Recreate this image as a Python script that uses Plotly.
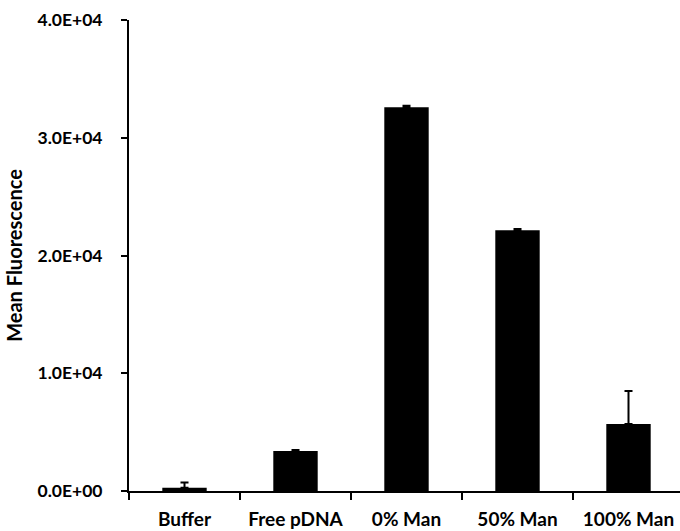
import plotly.graph_objects as go

categories = ["Buffer", "Free pDNA", "0% Man", "50% Man", "100% Man"]
mean_fluorescence = [280, 3400, 32600, 22150, 5700]
error_plus = [450, 80, 120, 110, 2800]
error_minus = [0, 0, 0, 0, 0]
y_tick_values = [0, 10000, 20000, 30000, 40000]
y_tick_labels = ["0.0E+00", "1.0E+04", "2.0E+04", "3.0E+04", "4.0E+04"]

fig = go.Figure()
fig.add_trace(go.Bar(
    x=categories,
    y=mean_fluorescence,
    width=0.4,
    marker=dict(color="black", line=dict(width=0)),
    error_y=dict(type="data", symmetric=False, array=error_plus,
                 arrayminus=error_minus, color="black", thickness=2, width=4),
))

fig.update_layout(
    width=680, height=531,
    margin=dict(l=129, r=0, t=19.5, b=39.5, autoexpand=False),
    paper_bgcolor="white", plot_bgcolor="white",
    showlegend=False,
    xaxis=dict(
        range=[-0.5, 4.464],
        showline=True, linecolor="black", linewidth=2,
        ticks="outside", tickson="boundaries", ticklen=7, tickwidth=2, tickcolor="black",
        ticklabelstandoff=10,
        tickfont=dict(family="Lato", size=19, color="black", weight="bold"),
        showgrid=False, zeroline=False,
    ),
    yaxis=dict(
        range=[0, 40000],
        tickvals=y_tick_values, ticktext=y_tick_labels,
        showline=True, linecolor="black", linewidth=2,
        ticks="outside", ticklen=6, tickwidth=2, tickcolor="black",
        ticklabelstandoff=15,
        tickfont=dict(family="Lato", size=17.5, color="black", weight="bold"),
        showgrid=False, zeroline=False,
        title=dict(text="Mean Fluorescence", standoff=10,
                   font=dict(family="Lato", size=20, color="black", weight="bold")),
    ),
)

fig.write_html("out.html", config={"displayModeBar": False},
               post_script="document.body.style.margin='0';")
